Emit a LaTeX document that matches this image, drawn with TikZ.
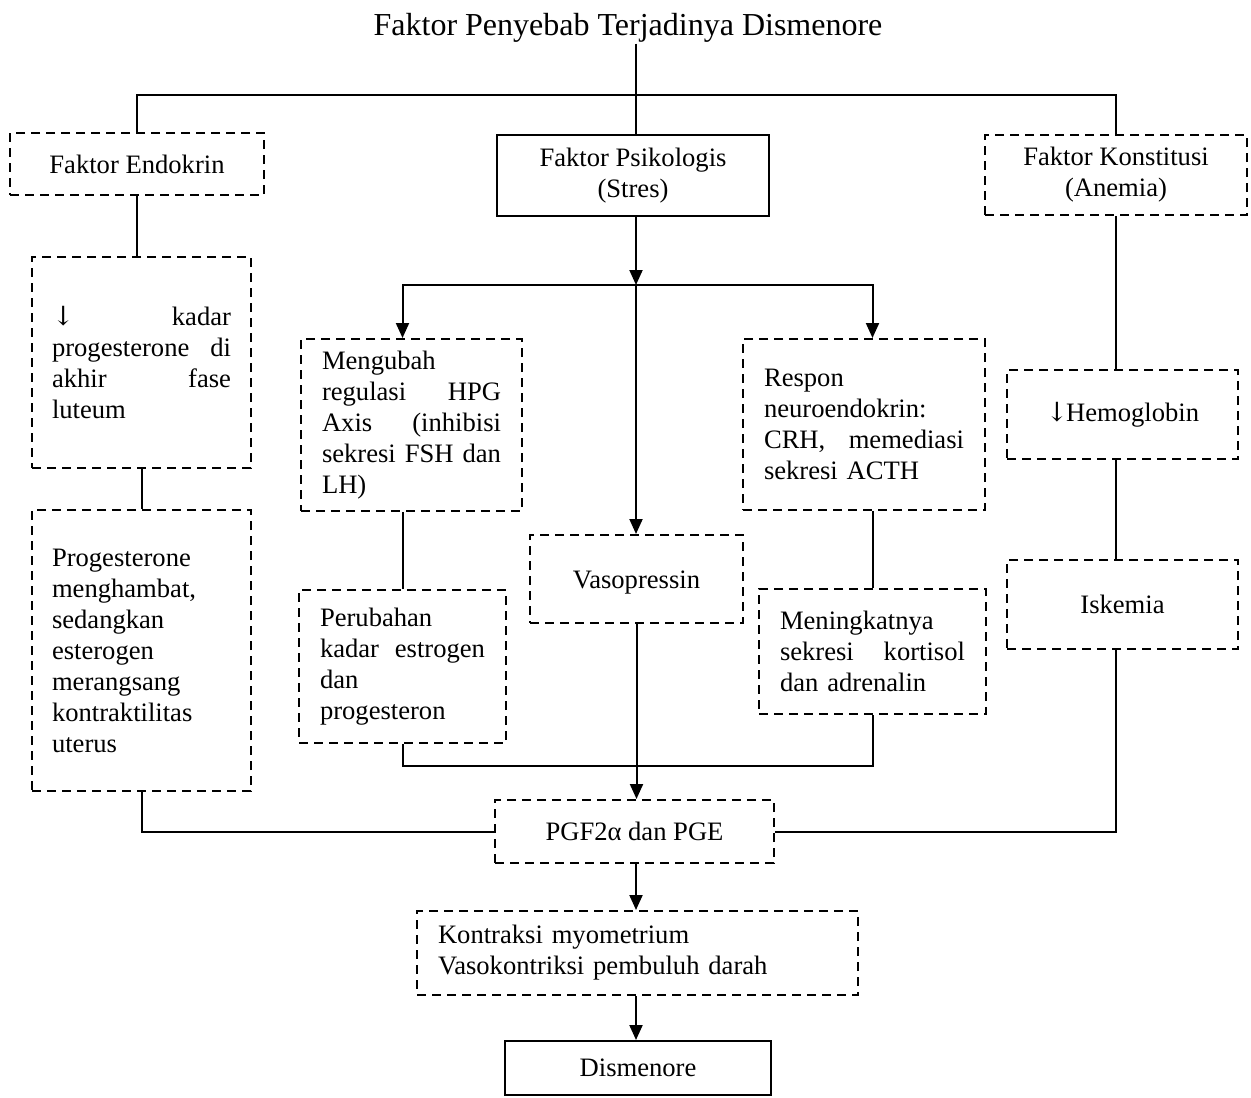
\documentclass[tikz,border=0pt]{standalone}
\usepackage{fontspec}
\setmainfont{Liberation Serif}
\newfontfamily\arrowfont{DejaVu Serif}
\usetikzlibrary{arrows.meta}
\newcommand\jline[2]{\makebox[#1][l]{#2}}
\newcommand\dnarr{{\arrowfont ↓}}
\begin{document}
\begin{tikzpicture}[x=0.5pt,y=-0.5pt,
  line width=1pt,
  every node/.style={font=\fontsize{13.3}{15.5}\selectfont, inner sep=0pt},
  dbox/.style={draw, dash pattern=on 4.5pt off 3pt},
  sbox/.style={draw},
  arr/.style={-{Triangle[length=7.5pt,width=6.5pt]}}]
\useasboundingbox (0,0) rectangle (1251,1097);

\node (title) at (628,28) {\fontsize{16}{19}\selectfont Faktor Penyebab Terjadinya Dismenore};

\node[dbox, minimum width=127pt, minimum height=31pt] (endo) at (137,164) {Faktor Endokrin};
\node[sbox, minimum width=136pt, minimum height=40.5pt, align=center] (psi) at (633,175.5) {Faktor Psikologis\\(Stres)};
\node[dbox, minimum width=131pt, minimum height=40pt, align=center] (kons) at (1116,175) {Faktor Konstitusi\\(Anemia)};

\node[dbox, minimum width=109.5pt, minimum height=105.5pt, text width=89.5pt, align=left] (prog1) at (141.5,362.5)
 {\jline{89.5pt}{\dnarr\hfill kadar}\\\jline{89.5pt}{progesterone\hfill di}\\\jline{89.5pt}{akhir\hfill fase}\\luteum};
\node[dbox, minimum width=109.5pt, minimum height=140.5pt, text width=89.5pt, align=left] (prog2) at (141.5,650.5)
 {Progesterone\\menghambat,\\sedangkan\\esterogen\\merangsang\\kontraktilitas\\uterus};

\node[dbox, minimum width=110.5pt, minimum height=86pt, text width=89.5pt, align=left] (hpg) at (411.5,425)
 {Mengubah\\\jline{89.5pt}{regulasi\hfill HPG}\\\jline{89.5pt}{Axis\hfill (inhibisi}\\\jline{89.5pt}{sekresi\hfill FSH\hfill dan}\\LH)};
\node[dbox, minimum width=103.5pt, minimum height=76.5pt, text width=82.5pt, align=left] (perub) at (402.5,666.5)
 {Perubahan\\\jline{82.5pt}{kadar\hfill estrogen}\\dan\\progesteron};

\node[dbox, minimum width=106.5pt, minimum height=44pt, text height=12.5pt, text depth=2.8pt] (vaso) at (636.5,579) {Vasopressin};

\node[dbox, minimum width=121pt, minimum height=85.5pt, text width=100pt, align=left] (resp) at (864,424.5)
 {Respon\\neuroendokrin:\\\jline{100pt}{CRH,\hfill memediasi}\\sekresi ACTH};
\node[dbox, minimum width=113.5pt, minimum height=62.5pt, text width=92.5pt, align=left] (mening) at (872.5,651.5)
 {Meningkatnya\\\jline{92.5pt}{sekresi\hfill kortisol}\\dan adrenalin};

\node[dbox, minimum width=115.5pt, minimum height=44.5pt] (hemo) at (1122.5,414.5) {\dnarr\kern-1pt Hemoglobin};
\node[dbox, minimum width=115.5pt, minimum height=44.5pt] (isk) at (1122.5,604.5) {Iskemia};

\node[dbox, minimum width=139.5pt, minimum height=31.5pt] (pgf) at (634.5,831.5) {PGF2α dan PGE};
\node[dbox, minimum width=220.5pt, minimum height=42pt, text width=199.5pt, align=left] (kontr) at (637.5,953)
 {Kontraksi myometrium\\Vasokontriksi pembuluh darah};
\node[sbox, minimum width=133pt, minimum height=27pt] (dism) at (638,1068) {Dismenore};

% top tree
\coordinate (j0) at (636,95);
\draw (title.south -| j0) -- (j0);
\draw (endo.north) |- (j0) -| (kons.north);
\draw (j0) -- (psi.north -| j0);

% endocrine chain
\draw (endo.south) -- (endo.south |- prog1.north);
\draw (prog1.south) -- (prog1.south |- prog2.north);
\draw (prog2.south) |- (pgf.west);

% psychological branch
\coordinate (j1) at (636,285);
\draw[arr] (psi.south -| j1) -- (j1);
\draw[arr] (j1) -| (hpg.north -| perub.north);
\draw[arr] (j1) -| (resp.north -| mening.north);
\draw[arr] (j1) -- (vaso.north -| j1);
\draw (hpg.south -| perub.north) -- (perub.north);
\draw (resp.south -| mening.north) -- (mening.north);
\coordinate (j2) at (636,766);
\draw (perub.south) |- (mening.south |- j2) -- (mening.south);
\draw[arr] (vaso.south) -- (vaso.south |- pgf.north);

% constitution chain
\draw (kons.south) -- (kons.south |- hemo.north);
\draw (hemo.south -| kons.south) -- (kons.south |- isk.north);
\draw (isk.south -| kons.south) |- (pgf.east);

% bottom
\draw[arr] (pgf.south -| j1) -- (kontr.north -| j1);
\draw[arr] (kontr.south -| j1) -- (dism.north -| j1);
\end{tikzpicture}
\end{document}
